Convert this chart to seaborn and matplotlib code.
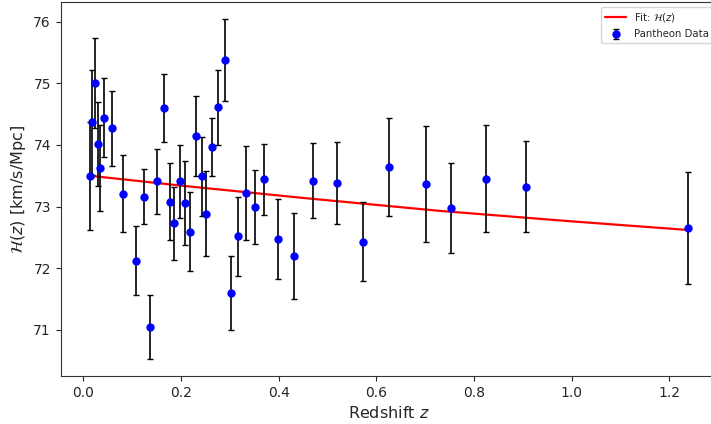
import numpy as np
import pandas as pd
import matplotlib
matplotlib.use("Agg")
import matplotlib.pyplot as plt
import seaborn as sns

# Pantheon data
z_data = [0.0137, 0.0184, 0.0246, 0.0295, 0.0348, 0.0430, 0.0588, 0.0819, 0.1079, 0.1243,
          0.1372, 0.1515, 0.1653, 0.1776, 0.1851, 0.1974, 0.2083, 0.2185, 0.2308, 0.2437,
          0.2513, 0.2630, 0.2759, 0.2896, 0.3025, 0.3174, 0.3326, 0.3510, 0.3701, 0.3981,
          0.4321, 0.4710, 0.5190, 0.5722, 0.6260, 0.7018, 0.7524, 0.8241, 0.9066, 1.2384]
H_data = [73.50, 74.37, 75.01, 74.01, 73.62, 74.44, 74.27, 73.21, 72.12, 73.16,
          71.04, 73.41, 74.60, 73.08, 72.73, 73.41, 73.06, 72.59, 74.14, 73.49,
          72.88, 73.97, 74.61, 75.38, 71.59, 72.52, 73.22, 72.99, 73.44, 72.47,
          72.20, 73.42, 73.38, 72.43, 73.64, 73.36, 72.98, 73.45, 73.32, 72.65]
H_err = [0.88, 0.85, 0.73, 0.68, 0.70, 0.64, 0.61, 0.625, 0.56, 0.45,
         0.52, 0.53, 0.55, 0.62, 0.59, 0.59, 0.68, 0.64, 0.65, 0.64,
         0.69, 0.47, 0.61, 0.67, 0.60, 0.64, 0.76, 0.60, 0.58, 0.65,
         0.70, 0.61, 0.67, 0.64, 0.80, 0.94, 0.73, 0.87, 0.74, 0.91]

# Fit curve
z_fit = [0.0137, 0.200, 0.450, 0.730, 1.000, 1.2384]
H_fit = [73.50, 73.34, 73.14, 72.93, 72.76, 72.62]

sns.set_style("ticks")
plt.rcParams['font.family'] = ['DejaVu Sans']

fig = plt.figure(figsize=(7.11, 4.24), dpi=100)
ax = fig.add_axes([60.7 / 711, 48 / 424, (718 - 60.7) / 711, (376 - 2) / 424])

fit_df = pd.DataFrame({"z": z_fit, "H": H_fit})
sns.lineplot(data=fit_df, x="z", y="H", ax=ax, color="red", linewidth=1.6,
             label=r"Fit: $\mathcal{H}(z)$")

ax.errorbar(z_data, H_data, yerr=H_err, fmt="o", color="blue", ecolor="black",
            elinewidth=1.2, capsize=2.2, capthick=1.0, markersize=5,
            label="Pantheon Data", zorder=3)

ax.set_xlim(-0.0463, 1.3)
ax.set_ylim(70.25, 76.32)
ax.set_xticks([0.0, 0.2, 0.4, 0.6, 0.8, 1.0, 1.2])
ax.set_yticks([71, 72, 73, 74, 75, 76])
ax.tick_params(labelsize=10)
for s in ax.spines.values():
    s.set_color("#333333")

ax.set_xlabel(r"Redshift $z$", fontsize=11.5)
ax.set_ylabel(r"$\mathcal{H}(z)$ [km/s/Mpc]", fontsize=11.5)

ax.legend(loc="upper right", fontsize=7.3)

fig.savefig("out.png", dpi=100)
